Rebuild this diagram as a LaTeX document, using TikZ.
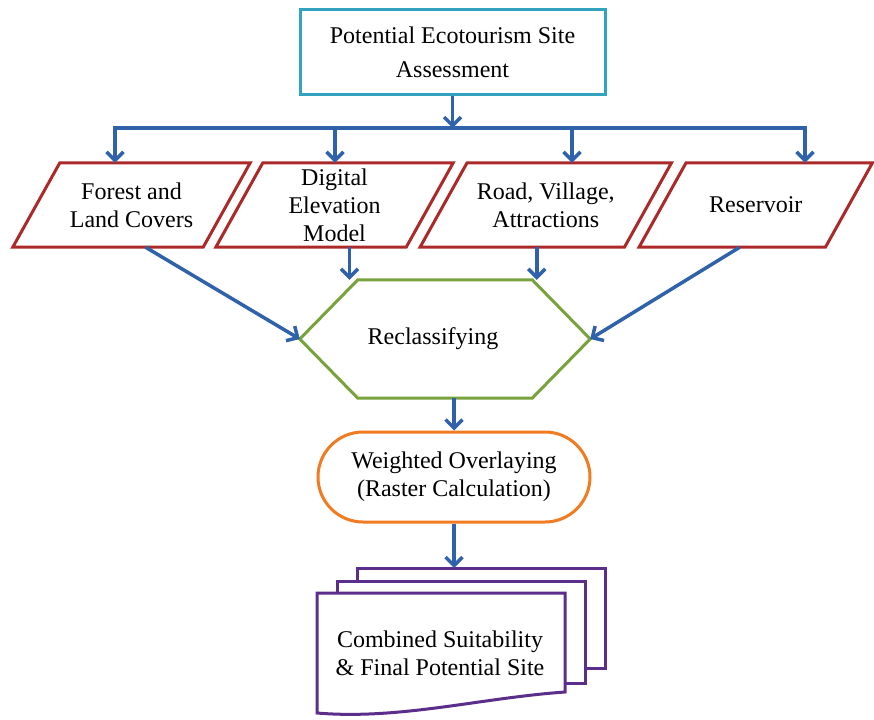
\documentclass[tikz,border=0pt]{standalone}
\usepackage{fontspec}
\setmainfont{Liberation Serif}
\usetikzlibrary{arrows.meta}

\definecolor{arrowblue}{HTML}{2F62AA}
\definecolor{startcyan}{HTML}{31A3BE}
\definecolor{datared}{HTML}{AC2929}
\definecolor{hexgreen}{HTML}{78A23C}
\definecolor{procorange}{HTML}{F07B20}
\definecolor{docpurple}{HTML}{5C2E8C}

\begin{document}
\begin{tikzpicture}[x=1pt,y=-1pt]
    % styles
    \tikzset{
        flow/.style={draw=arrowblue, line width=3.5pt, -{Straight Barb[length=8.5pt,width=17pt]}},
        bus/.style={draw=arrowblue, line width=3.5pt, line cap=rect},
        startbox/.style={draw=startcyan, line width=3pt, minimum width=305pt, minimum height=85pt, align=center, font=\fontsize{24}{34}\selectfont},
        dataslot/.style={draw=none, minimum height=84pt, align=center, font=\fontsize{24}{28}\selectfont},
        dataedge/.style={draw=datared, line width=3pt, line join=miter},
        hexslot/.style={draw=none, minimum width=290pt, minimum height=118pt, font=\fontsize{24}{28}\selectfont},
        hexedge/.style={draw=hexgreen, line width=3pt},
        procbox/.style={draw=procorange, line width=3pt, rounded corners=45pt, minimum width=272pt, minimum height=90pt, align=center, font=\fontsize{24}{28}\selectfont},
        page/.style={draw=docpurple, line width=3pt, fill=white},
        doctext/.style={align=center, font=\fontsize{24}{28}\selectfont},
    }

    % fixe la taille
    \useasboundingbox (0,0) rectangle (874,719);

    % boite de depart
    \node[startbox] (site) at (452.5,52.5) {Potential Ecotourism Site\\Assessment};

    % donnees d'entree (parallelogrammes)
    \foreach \nm/\cx/\bw/\txt in {forest/131.5/190/{Forest and\\Land Covers},
                                  dem/334.5/190/{Digital\\Elevation\\Model},
                                  road/545.75/204/{Road, Village,\\Attractions},
                                  res/755.75/186/{Reservoir}} {
        \node[dataslot, minimum width=\bw pt] (\nm) at (\cx,205) {\txt};
        \draw[dataedge] ([xshift=23.5pt]\nm.north west) -- ([xshift=23.5pt]\nm.north east)
            -- ([xshift=-23.5pt]\nm.south east) -- ([xshift=-23.5pt]\nm.south west) -- cycle;
    }

    % barre de distribution
    \foreach \i/\bx/\nm in {1/115/forest, 2/335/dem, 3/572/road, 4/805/res} {
        \coordinate (b\i) at (\bx,128);
        \draw[flow] (b\i) -- (b\i |- \nm.north);
    }
    \draw[bus] (b1) -- (b4);
    \draw[flow] (site.south) -- (site.south |- b1);

    % reclassement (hexagone)
    \node[hexslot] (recl) at (445,339) {Reclassifying\hspace*{24pt}};
    \draw[hexedge] (recl.west) -- ([xshift=58pt]recl.north west) -- ([xshift=-58pt]recl.north east)
        -- (recl.east) -- ([xshift=-58pt]recl.south east) -- ([xshift=58pt]recl.south west) -- cycle;

    \draw[flow] ([xshift=14pt]forest.south) -- (recl.west);
    \draw[flow] ([xshift=15pt]dem.south) -- ([xshift=15pt]dem.south |- recl.north);
    \draw[flow] ([xshift=-9pt]road.south) -- ([xshift=-9pt]road.south |- recl.north);
    \draw[flow] ([xshift=-16pt]res.south) -- (recl.east);

    % superposition ponderee
    \node[procbox] (wover) at (454,477) {Weighted Overlaying\\(Raster Calculation)};
    \draw[flow] (recl.south -| wover.north) -- (wover.north);

    % pile de documents
    \draw[page] (357,568) rectangle (605,668);
    \draw[page] (337,581) rectangle (585,683);
    \draw[page] (317,593) -- (565,593) -- (565,692)
        .. controls (480,698) and (400,720) .. (317,713) -- cycle;
    \node[doctext] (doc) at (440,653) {Combined Suitability\\\& Final Potential Site};

    \coordinate (stacktop) at (454,568);
    \draw[flow] (wover.south) -- (stacktop);
\end{tikzpicture}
\end{document}
